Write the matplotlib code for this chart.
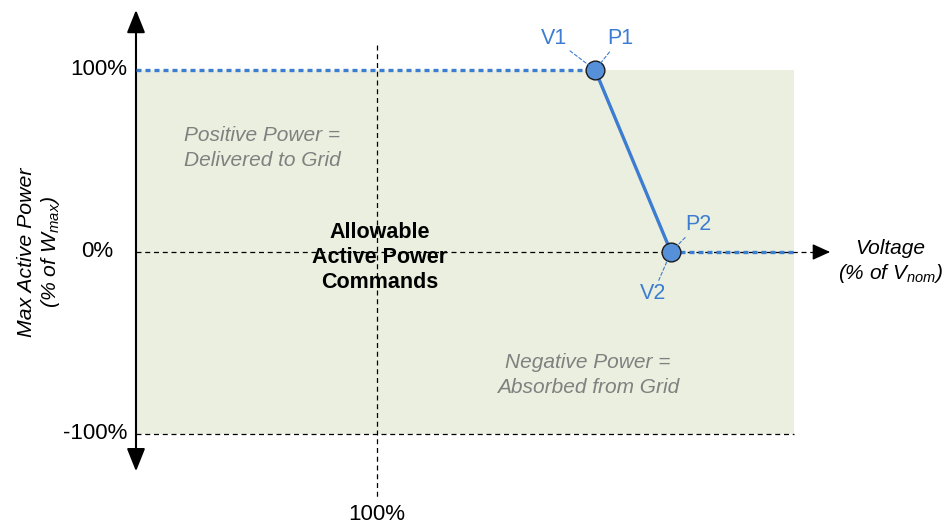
import matplotlib.pyplot as plt

plt.rcParams['font.family'] = ['Liberation Sans', 'DejaVu Sans']
plt.rcParams['mathtext.fontset'] = 'custom'
plt.rcParams['mathtext.rm'] = 'Liberation Sans'
plt.rcParams['mathtext.it'] = 'Liberation Sans:italic'

# --- data (voltage in % of Vnom, power in % of Wmax) ---
v_axis = 90.0          # where the power axis sits
v_nom = 100.0
v1, p1 = 109.05, 100.0
v2, p2 = 112.2, 0.0
v_end = 117.3          # right edge of the allowable region
v_arrow = 118.8
p_levels = [100, 0, -100]
p_ticklabels = ["100%", "0%", "-100%"]

BLUE = "#3C7DD2"
MARK = "#5690D8"
GRAY = "#808080"
FILL = "#EBEFDF"

fig = plt.figure(figsize=(9.43, 5.25), dpi=100)
ax = fig.add_axes([0, 0, 1, 1])
ax.set_xlim(84.357, 123.485)
ax.set_ylim(-150.0, 138.46)
ax.axis("off")

# allowable region
ax.fill_between([v_axis, v_end], -100, 100, color=FILL, lw=0, zorder=0)

# reference lines
ax.plot([v_axis, v_end], [-100, -100], color="black", lw=0.9, ls=(0, (4, 3)), zorder=1)
ax.plot([v_nom, v_nom], [113.7, -136], color="black", lw=0.9, ls=(0, (4, 3)), zorder=1)
ax.plot([v_axis, v_arrow - 0.6], [0, 0], color="black", lw=0.9, ls=(0, (4, 3)), zorder=1)
ax.annotate("", xy=(v_arrow, 0), xytext=(v_arrow - 0.6, 0),
            arrowprops=dict(arrowstyle="-|>,head_length=0.55,head_width=0.25",
                            mutation_scale=20, color="black", lw=0.9,
                            shrinkA=0, shrinkB=0))

# power axis with arrows both ends
ax.annotate("", xy=(v_axis, 133.0), xytext=(v_axis, -120.5),
            arrowprops=dict(arrowstyle="<|-|>,head_length=0.7,head_width=0.28",
                            mutation_scale=20, color="black", lw=1.5,
                            shrinkA=0, shrinkB=0), zorder=3)

# volt-watt curve
ax.plot([v_axis, v1], [p1, p1], color=BLUE, lw=2.4, ls=(0, (1.5, 1.2)), zorder=4)
ax.plot([v1, v2], [p1, p2], color=BLUE, lw=2.4, zorder=4)
ax.plot([v2, v_end], [p2, p2], color=BLUE, lw=2.4, ls=(0, (1.5, 1.2)), zorder=4)
ax.plot([v1, v2], [p1, p2], ls="none", marker="o", ms=13.5, mfc=MARK,
        mec="#1a1a1a", mew=1.0, zorder=5)

# point labels with dashed leaders
lead = dict(arrowstyle="-", color=BLUE, lw=0.8, ls=(0, (3, 2)), shrinkA=0, shrinkB=6)
for txt, (x, y), off in [("V1", (v1, p1), (-29.5, 22.5)),
                         ("P1", (v1, p1), (18, 22.5)),
                         ("P2", (v2, p2), (19.5, 20)),
                         ("V2", (v2, p2), (-13, -30))]:
    ax.annotate(txt, xy=(x, y), xytext=off, textcoords="offset points",
                ha="center", va="center", fontsize=15.5, color=BLUE,
                arrowprops=lead, zorder=6)

# tick labels
for p, lab, xr in zip(p_levels, p_ticklabels, [89.63, 89.05, 89.63]):
    ax.text(xr, p, lab, ha="right", va="center", fontsize=16)
ax.text(v_nom, -144.5, "100%", ha="center", va="center", fontsize=16)

# axis titles
ax.text(86.0, 0, "Max Active Power\n(% of $W_{max}$)", rotation=90, ha="center",
        va="center", fontsize=15.3, style="italic", linespacing=1.15)
ax.text(121.3, -5.5, "Voltage\n(% of $V_{nom}$)", ha="center", va="center",
        fontsize=15, style="italic", linespacing=1.2)

# region annotations
ax.text(95.23, 57.2, "Positive Power =\nDelivered to Grid", ha="center", va="center",
        fontsize=15, style="italic", color=GRAY, linespacing=1.45)
ax.text(108.76, -67.6, "Negative Power =\nAbsorbed from Grid", ha="center", va="center",
        fontsize=15, style="italic", color=GRAY, linespacing=1.45)
ax.text(100.12, -3.0, "Allowable\nActive Power\nCommands", ha="center", va="center",
        fontsize=15.5, fontweight="bold", linespacing=1.25, zorder=6)

fig.savefig("out.png", dpi=100)
